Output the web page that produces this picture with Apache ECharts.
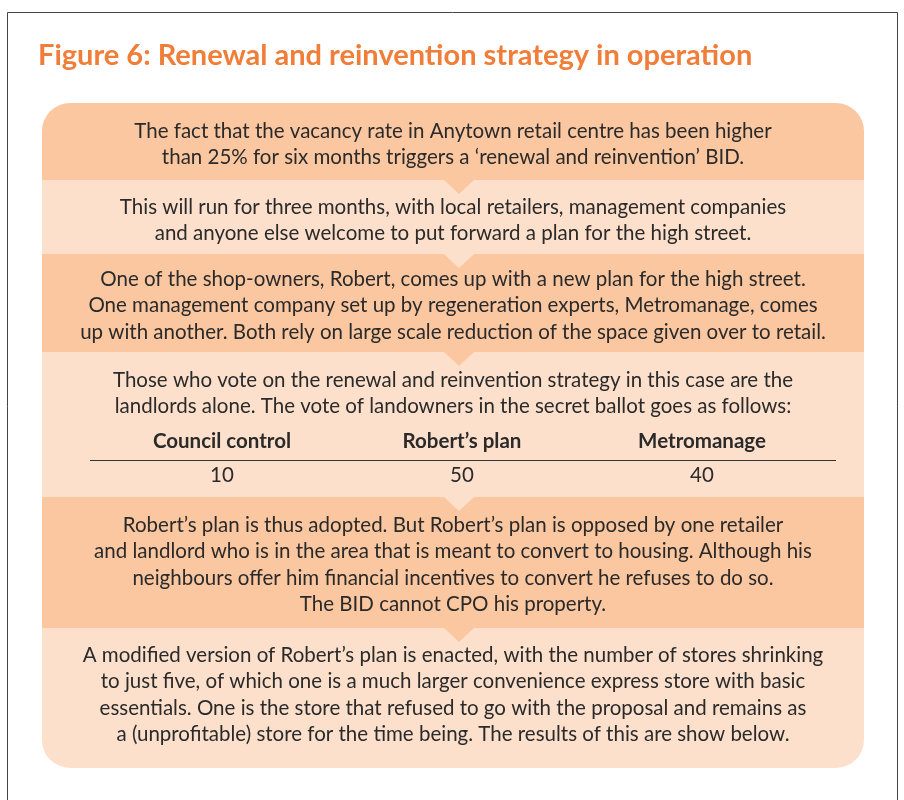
<!DOCTYPE html>
<html>
<head>
<meta charset="utf-8">
<title>Figure 6</title>
<script src="https://cdn.jsdelivr.net/npm/echarts@6/dist/echarts.min.js"></script>
<style>
  html, body { margin: 0; padding: 0; background: #fff; }
  #chart { width: 904px; height: 800px; }
</style>
</head>
<body>
<div id="chart"></div>
<script>
// texts of the figure
var title = 'Figure 6: Renewal and reinvention strategy in operation'
var step1 = [
  'The fact that the vacancy rate in Anytown retail centre has been higher',
  'than 25% for six months triggers a \u2018renewal and reinvention\u2019 BID.'
]
var step2 = [
  'This will run for three months, with local retailers, management companies',
  'and anyone else welcome to put forward a plan for the high street.'
]
var step3 = [
  'One of the shop-owners, Robert, comes up with a new plan for the high street.',
  'One management company set up by regeneration experts, Metromanage, comes',
  'up with another. Both rely on large scale reduction of the space given over to retail.'
]
var step4 = [
  'Those who vote on the renewal and reinvention strategy in this case are the',
  'landlords alone. The vote of landowners in the secret ballot goes as follows:'
]
var step5 = [
  'Robert\u2019s plan is thus adopted. But Robert\u2019s plan is opposed by one retailer',
  'and landlord who is in the area that is meant to convert to housing. Although his',
  'neighbours offer him financial incentives to convert he refuses to do so.',
  'The BID cannot CPO his property.'
]
var step6 = [
  'A modified version of Robert\u2019s plan is enacted, with the number of stores shrinking',
  'to just five, of which one is a much larger convenience express store with basic',
  'essentials. One is the store that refused to go with the proposal and remains as',
  'a (unprofitable) store for the time being. The results of this are show below.'
]
var voteOptions = ['Council control', 'Robert\u2019s plan', 'Metromanage']
var voteCounts = [10, 50, 40]

var steps = [step1, step2, step3, step4, step5, step6]

// band geometry (top, bottom, offset of first text line)
var bands = [
  { top: 103, bottom: 180, first: 28 },
  { top: 180, bottom: 254, first: 27 },
  { top: 254, bottom: 352, first: 25 },
  { top: 352, bottom: 497, first: 28 },
  { top: 497, bottom: 628, first: 28 },
  { top: 628, bottom: 768, first: 27 }
]
var left = 42
var right = 864
var cx = 453
var lineH = 26.6
var dark = '#fbc7a1'
var light = '#fde0cc'
var ink = '#2a2a2a'
var font = 'Lato, "Open Sans", sans-serif'

var chart = echarts.init(document.getElementById('chart'))
var elements = []

// outer frame
elements.push({
  type: 'rect',
  shape: { x: 7.5, y: 12.5, width: 890, height: 800 },
  style: { fill: 'none', stroke: '#444', lineWidth: 1 },
  silent: true
})

elements.push({
  type: 'text',
  x: 38,
  y: 56,
  style: {
    text: title,
    fill: '#f07d38',
    font: 'bold 29px ' + font,
    textVerticalAlign: 'middle'
  }
})

bands.forEach(function(b, i) {
  var r = [0, 0, 0, 0]
  if (i === 0) r = [28, 28, 0, 0]
  if (i === bands.length - 1) r = [0, 0, 28, 28]
  elements.push({
    type: 'rect',
    z: 1,
    shape: { x: left, y: b.top, width: right - left, height: b.bottom - b.top, r: r },
    style: { fill: i % 2 === 0 ? dark : light }
  })
})

// arrow notches pointing down into the next band
bands.forEach(function(b, i) {
  if (i === bands.length - 1) return
  elements.push({
    type: 'polygon',
    z: 3,
    shape: { points: [[443, b.bottom - 1], [475, b.bottom - 1], [459, b.bottom + 14]] },
    style: { fill: i % 2 === 0 ? dark : light }
  })
})

steps.forEach(function(lines, i) {
  var b = bands[i]
  lines.forEach(function(line, j) {
    elements.push({
      type: 'text',
      z: 4,
      x: cx,
      y: b.top + b.first + j * lineH,
      style: {
        text: line,
        fill: ink,
        font: '20.5px ' + font,
        textAlign: 'center',
        textVerticalAlign: 'middle'
      }
    })
  })
})

// vote table inside band 4
var colX = [222, 462, 702]
voteOptions.forEach(function(name, k) {
  elements.push({
    type: 'text',
    z: 4,
    x: colX[k],
    y: 441,
    style: {
      text: name,
      fill: ink,
      font: 'bold 20.5px ' + font,
      textAlign: 'center',
      textVerticalAlign: 'middle'
    }
  })
  elements.push({
    type: 'text',
    z: 4,
    x: colX[k],
    y: 475,
    style: {
      text: String(voteCounts[k]),
      fill: ink,
      font: '20.5px ' + font,
      textAlign: 'center',
      textVerticalAlign: 'middle'
    }
  })
})
elements.push({
  type: 'line',
  z: 4,
  shape: { x1: 90, y1: 460.5, x2: 836, y2: 460.5 },
  style: { stroke: '#333', lineWidth: 1.2 }
})

chart.setOption({
  animation: false,
  graphic: { elements: elements }
})
</script>
</body>
</html>
